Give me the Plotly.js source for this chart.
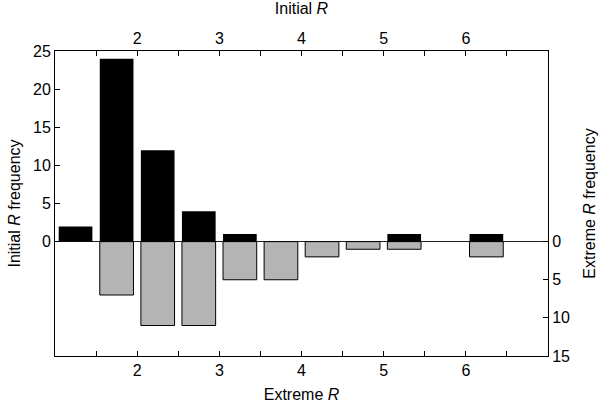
<!DOCTYPE html>
<html>
<head>
<meta charset="utf-8">
<script src="https://cdn.plot.ly/plotly-3.0.1.min.js"></script>
<style>
  body { margin: 0; background: #fff; }
  #chart { width: 600px; height: 405px; }
</style>
</head>
<body>
<div id="chart"></div>
<script>
// bin centres (R values), bins are 0.5 wide
var binCentres = [1.25, 1.75, 2.25, 2.75, 3.25, 3.75, 4.25, 4.75, 5.25, 5.75, 6.25];
// counts
var initialFreq = [2, 24, 12, 4, 1, 0, 0, 0, 1, 0, 1];
var extremeFreq = [0, 7, 11, 11, 5, 5, 2, 1, 1, 0, 2];

var xTickVals = [1.5, 2, 2.5, 3, 3.5, 4, 4.5, 5, 5.5, 6, 6.5];
var xTickText = ['', '2', '', '3', '', '4', '', '5', '', '6', ''];
var leftTicks = [0, 5, 10, 15, 20, 25];
var rightTicks = [0, 5, 10, 15];

var font = {family: 'Liberation Sans, Arial, Helvetica, sans-serif', size: 16, color: '#000'};

// drop empty bins so no zero-height outlines get drawn
function nonZero(xs, ys) {
    var out = {x: [], y: []};
    ys.forEach(function (v, i) {
        if (v !== 0) { out.x.push(xs[i]); out.y.push(v); }
    });
    return out;
}
var ini = nonZero(binCentres, initialFreq);
var ext = nonZero(binCentres, extremeFreq);

// extreme: bottom x axis + right (reversed) y axis
var extremeTrace = {
    x: ext.x, y: ext.y, type: 'bar', width: 0.41,
    xaxis: 'x', yaxis: 'y',
    marker: {color: '#b4b4b4', line: {color: '#000', width: 1}},
    name: 'Extreme R'
};
// initial: top x axis + left y axis
var initialTrace = {
    x: ini.x, y: ini.y, type: 'bar', width: 0.41,
    xaxis: 'x2', yaxis: 'y2',
    marker: {color: '#000', line: {color: '#000', width: 0}},
    name: 'Initial R'
};

var xCommon = {
    range: [1, 7], tickmode: 'array', tickvals: xTickVals, ticktext: xTickText,
    ticks: 'inside', ticklen: 5, tickcolor: '#000', tickwidth: 1,
    showline: true, linecolor: '#000', linewidth: 1,
    showgrid: false, zeroline: false, tickfont: font, fixedrange: true
};
var yCommon = {
    tickmode: 'array', ticks: 'inside', ticklen: 5, tickcolor: '#000',
    showline: true, linecolor: '#000', linewidth: 1,
    showgrid: false, tickfont: font, fixedrange: true
};

var layout = {
    width: 600, height: 405,
    margin: {l: 55, r: 52, t: 51, b: 49},
    paper_bgcolor: '#fff', plot_bgcolor: '#fff',
    showlegend: false,
    font: font,
    xaxis: Object.assign({}, xCommon, {
        side: 'bottom', anchor: 'y',
        title: {text: 'Extreme <i>R</i>', font: font, standoff: 10}
    }),
    xaxis2: Object.assign({}, xCommon, {
        side: 'top', overlaying: 'x', anchor: 'y2',
        title: {text: 'Initial <i>R</i>', font: font, standoff: 10}
    }),
    yaxis: Object.assign({}, yCommon, {
        range: [15, -25], tickvals: rightTicks,
        side: 'right', anchor: 'x',
        zeroline: false,
        title: {text: 'Extreme <i>R</i> frequency', font: font, standoff: 14}
    }),
    yaxis2: Object.assign({}, yCommon, {
        range: [-15, 25], tickvals: leftTicks,
        side: 'left', overlaying: 'y', anchor: 'x2',
        zeroline: true, zerolinecolor: '#222', zerolinewidth: 1,
        title: {text: 'Initial <i>R</i> frequency', font: font, standoff: 8}
    })
};

Plotly.newPlot('chart', [extremeTrace, initialTrace], layout, {displayModeBar: false, staticPlot: true});
</script>
</body>
</html>
